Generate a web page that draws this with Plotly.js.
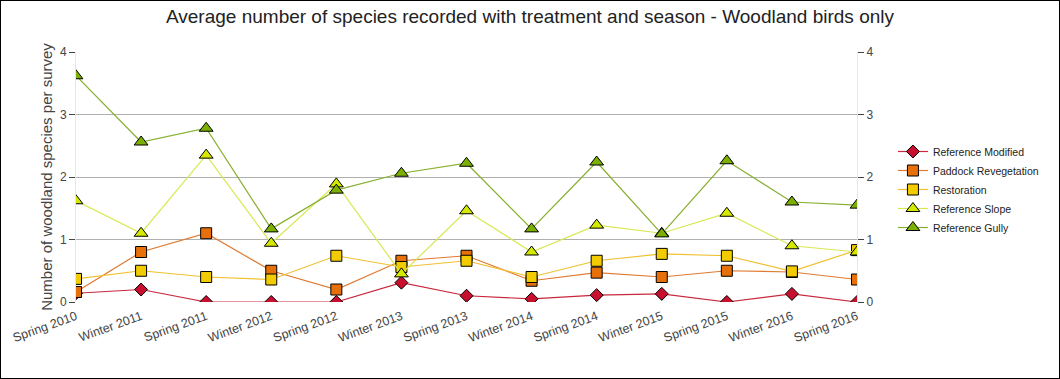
<!DOCTYPE html>
<html><head><meta charset="utf-8">
<script src="https://cdn.plot.ly/plotly-3.0.1.min.js"></script>
<style>
html,body{margin:0;padding:0;background:#fff;}
#chart{width:1060px;height:379px;box-sizing:border-box;border:1px solid #000;}
</style></head>
<body><div id="chart"></div>
<script>
const categories = ["Spring 2010","Winter 2011","Spring 2011","Winter 2012","Spring 2012","Winter 2013","Spring 2013","Winter 2014","Spring 2014","Winter 2015","Spring 2015","Winter 2016","Spring 2016"];
const referenceModified = [0.14,0.2,0,0,0,0.31,0.1,0.05,0.11,0.13,0,0.13,0];
const paddockRevegetation = [0.16,0.8,1.1,0.5,0.2,0.66,0.74,0.34,0.47,0.4,0.5,0.48,0.36];
const restoration = [0.37,0.5,0.4,0.36,0.74,0.56,0.66,0.4,0.66,0.77,0.74,0.49,0.83];
const referenceSlope = [1.62,1.1,2.35,0.94,1.89,0.45,1.46,0.8,1.23,1.1,1.42,0.9,0.8];
const referenceGully = [3.62,2.56,2.78,1.17,1.79,2.06,2.22,1.17,2.24,1.09,2.26,1.6,1.55];
const yTicks = [0,1,2,3,4];

function tr(name, y, lineColor, markerColor, symbol, size){
  return {type:'scatter', mode:'lines+markers', name:name, x:categories, y:y,
    line:{color:lineColor, width:1.2},
    marker:{symbol:symbol, color:markerColor, size:size, line:{color:'#000', width:1}}};
}
const data = [
  tr('Reference Modified', referenceModified, '#c8283c', '#c8102e', 'diamond', 10),
  tr('Paddock Revegetation', paddockRevegetation, '#e07a30', '#e8700a', 'square', 11),
  tr('Restoration', restoration, '#f0c030', '#f2cc00', 'square', 11),
  tr('Reference Slope', referenceSlope, '#d8e850', '#d4e800', 'triangle-up', 12),
  tr('Reference Gully', referenceGully, '#88b030', '#7cb000', 'triangle-up', 12),
  {type:'scatter', mode:'markers', x:categories, y:referenceGully, yaxis:'y2', showlegend:false, hoverinfo:'skip', marker:{opacity:0}}
];
const axisY = {range:[0,4], tickvals:yTicks, ticks:'outside', ticklen:6, tickcolor:'#444',
  showgrid:true, gridcolor:'#b0b0b0', zeroline:false, showline:true, linecolor:'#e6e6e6',
  tickfont:{family:'Liberation Sans, Arial, sans-serif', size:12, color:'#444'}};
const layout = {
  width:1058, height:377,
  margin:{l:75, r:202, t:51, b:76, autoexpand:false},
  paper_bgcolor:'#fff', plot_bgcolor:'#fff',
  font:{family:'Liberation Sans, Arial, sans-serif', color:'#444'},
  title:{text:'Average number of species recorded with treatment and season - Woodland birds only',
    font:{size:19, color:'#222'}, x:0.5, xanchor:'center', y:0.958, yanchor:'middle'},
  xaxis:{type:'category', range:[0,12], showgrid:false, showline:false, ticks:'', tickangle:-20,
    ticklabelstandoff:4, tickfont:{size:12.5, color:'#444'}},
  yaxis:Object.assign({}, axisY, {title:{text:'Number of woodland species per survey', font:{size:15, color:'#444'}, standoff:3}}),
  yaxis2:Object.assign({}, axisY, {overlaying:'y', side:'right', showgrid:false}),
  legend:{x:1.046, y:0.45, xanchor:'left', yanchor:'middle', font:{size:10.5, color:'#222'}, tracegroupgap:0, itemwidth:30},
  showlegend:true
};
Plotly.newPlot('chart', data, layout, {displayModeBar:false, staticPlot:true});
</script></body></html>
